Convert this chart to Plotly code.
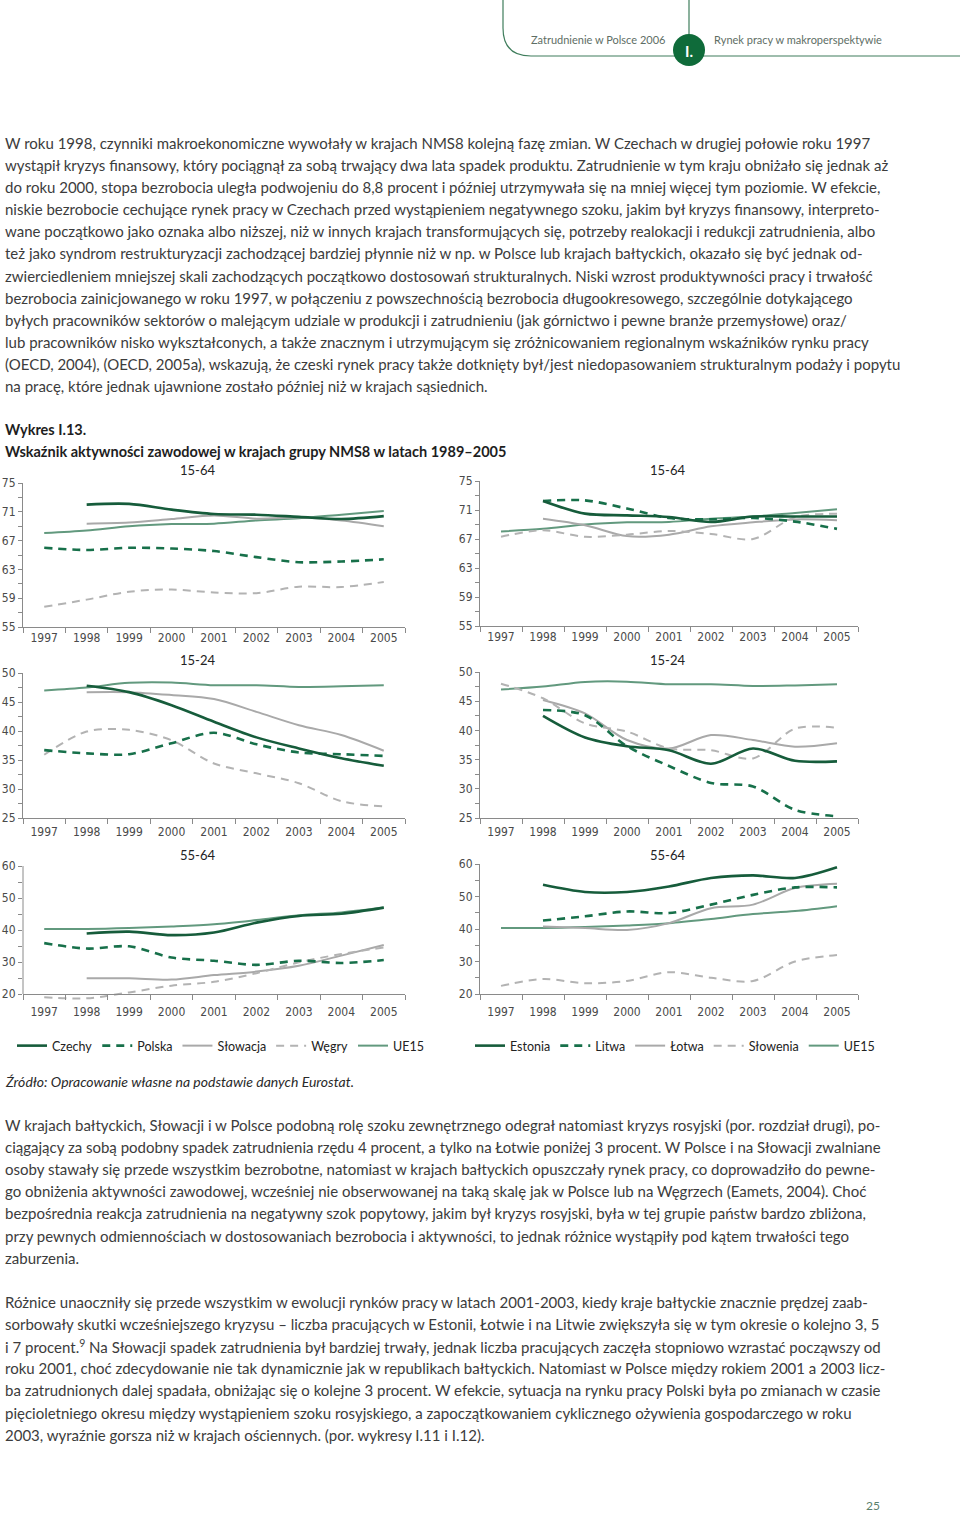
import plotly.graph_objects as go

W, H = 960, 1513
def px(x): return x / W
def py(y): return 1 - y / H

years = [1997, 1998, 1999, 2000, 2001, 2002, 2003, 2004, 2005]
year_labels = [str(y) for y in years]

# ---- Left group (Czechy, Polska, Slowacja, Wegry, UE15)
czechy_1564 = [None, 72.0, 72.1, 71.3, 70.7, 70.6, 70.3, 70.0, 70.4]
polska_1564 = [66.0, 65.7, 66.0, 65.9, 65.55, 64.7, 64.0, 64.1, 64.4]
slowacja_1564 = [None, 69.35, 69.5, 70.0, 70.5, 70.05, 70.2, 69.8, 69.0]
wegry_1564 = [57.8, 58.8, 59.9, 60.2, 59.8, 59.7, 60.6, 60.55, 61.25]

czechy_1524 = [None, 47.8, 46.7, 44.45, 41.6, 38.9, 37.0, 35.3, 34.0]
polska_1524 = [36.7, 36.15, 36.0, 37.9, 39.7, 37.7, 36.3, 36.0, 35.7]
slowacja_1524 = [None, 46.7, 46.7, 46.2, 45.5, 43.3, 41.0, 39.3, 36.6]
wegry_1524 = [35.9, 39.9, 40.2, 38.4, 34.4, 32.7, 31.0, 27.9, 27.0]

czechy_5564 = [None, 38.9, 39.5, 38.4, 39.2, 42.3, 44.4, 45.1, 47.0]
polska_5564 = [35.9, 34.2, 34.9, 31.4, 30.4, 29.1, 30.4, 29.7, 30.6]
slowacja_5564 = [None, 24.9, 24.9, 24.5, 25.9, 27.0, 28.8, 32.0, 35.3]
wegry_5564 = [19.0, 18.65, 20.5, 22.6, 23.8, 26.5, 29.9, 32.5, 34.55]

# ---- Right group (Estonia, Litwa, Lotwa, Slowenia, UE15)
estonia_1564 = [None, 72.24, 70.5, 70.26, 70.03, 69.35, 70.1, 70.1, 70.1]
litwa_1564 = [None, 72.24, 72.33, 71.2, 69.9, 69.7, 69.9, 69.4, 68.4]
lotwa_1564 = [None, 69.8, 68.9, 67.4, 67.6, 68.75, 69.3, 69.7, 69.6]
slowenia_1564 = [67.3, 68.2, 67.3, 67.6, 68.1, 67.7, 67.0, 70.0, 70.5]

estonia_1524 = [None, 42.5, 38.8, 37.3, 36.6, 34.3, 36.9, 34.8, 34.7]
litwa_1524 = [None, 43.5, 42.6, 37.3, 33.9, 31.0, 30.4, 26.4, 25.3]
lotwa_1524 = [None, 45.2, 42.9, 38.35, 36.9, 39.2, 38.35, 37.2, 37.8]
slowenia_1524 = [48.0, 45.5, 41.2, 39.8, 36.9, 36.6, 35.2, 40.3, 40.45]

estonia_5564 = [None, 53.6, 51.4, 51.4, 53.1, 55.7, 56.5, 55.7, 59.0]
litwa_5564 = [None, 42.6, 43.9, 45.4, 44.9, 47.5, 50.5, 52.8, 52.8]
lotwa_5564 = [None, 40.8, 40.3, 39.7, 41.8, 46.4, 47.5, 52.6, 53.9]
slowenia_5564 = [22.5, 24.6, 23.3, 24.0, 26.7, 25.0, 24.0, 30.0, 32.0]

ue15_1564 = [68.05, 68.4, 69.0, 69.3, 69.35, 69.8, 70.1, 70.6, 71.1]
ue15_1524 = [47.0, 47.5, 48.3, 48.35, 47.9, 47.9, 47.6, 47.7, 47.9]
ue15_5564 = [40.3, 40.3, 40.6, 41.1, 41.8, 43.1, 44.6, 45.5, 47.0]

left_names = ["Czechy", "Polska", "Słowacja", "Węgry", "UE15"]
right_names = ["Estonia", "Litwa", "Łotwa", "Słowenia", "UE15"]
panel_titles = ["15-64", "15-24", "55-64"]

left_data = [
    [czechy_1564, polska_1564, slowacja_1564, wegry_1564, ue15_1564],
    [czechy_1524, polska_1524, slowacja_1524, wegry_1524, ue15_1524],
    [czechy_5564, polska_5564, slowacja_5564, wegry_5564, ue15_5564],
]
right_data = [
    [estonia_1564, litwa_1564, lotwa_1564, slowenia_1564, ue15_1564],
    [estonia_1524, litwa_1524, lotwa_1524, slowenia_1524, ue15_1524],
    [estonia_5564, litwa_5564, lotwa_5564, slowenia_5564, ue15_5564],
]

styles = [
    dict(color="#165c3b", width=2.6, dash="solid"),
    dict(color="#17704a", width=2.6, dash="8px,6px"),
    dict(color="#a9a9a9", width=2.0, dash="solid"),
    dict(color="#b3b3b3", width=2.0, dash="8px,6px"),
    dict(color="#62997e", width=2.0, dash="solid"),
]

# panel geometry (pixels): (x0, x1, ytop, ybottom)
geo = [
    (23, 405, 483, 627), (480, 858, 481, 626),
    (23, 405, 673, 818), (480, 858, 672, 818),
    (23, 405, 866, 994), (480, 858, 864, 994),
]
yranges = [(55, 75, 4), (25, 50, 5), (20, 60, 10)]
label_standoff = [0, 3, 7]

AX = "#8a8a8a"
TICKFONT = dict(family="Liberation Sans Narrow, DejaVu Sans Condensed, Roboto, sans-serif", size=12, color="#4a4a4a")
BODY = "Lato, 'Noto Sans', sans-serif"

fig = go.Figure()
layout = {}
shapes = []

for row in range(3):
    for col in range(2):
        i = row * 2 + col
        n = i + 1
        xa = "x" if n == 1 else f"x{n}"
        ya = "y" if n == 1 else f"y{n}"
        xkey = "xaxis" if n == 1 else f"xaxis{n}"
        ykey = "yaxis" if n == 1 else f"yaxis{n}"
        x0, x1, yt, yb = geo[i]
        lo, hi, dt = yranges[row]
        data = left_data[row] if col == 0 else right_data[row]
        names = left_names if col == 0 else right_names
        lg = "legend" if col == 0 else "legend2"
        extend = (row == 2 and col == 0)
        rlo = lo - 2.5 if extend else lo
        ppu = (yb - yt) / (hi - lo)
        ybot_px = yb + (lo - rlo) * ppu
        order = [4, 2, 3, 1, 0]
        for k in order:
            fig.add_trace(go.Scatter(
                x=years, y=data[k], mode="lines", name=names[k],
                line=dict(shape="spline", smoothing=0.9, **styles[k]),
                xaxis=xa, yaxis=ya, legend=lg,
                showlegend=(row == 0), legendrank=k + 1,
                hoverinfo="skip",
            ))
        xaxis = dict(
            domain=[px(x0), px(x1)], range=[1996.5, 2005.5],
            tickmode="array", tickvals=years, ticktext=year_labels,
            ticks="", showgrid=False, zeroline=False,
            showline=True, linecolor=AX, linewidth=1,
            tickfont=TICKFONT, fixedrange=True, automargin=False,
            ticklabelstandoff=label_standoff[row],
            minor=dict(tick0=1996.5, dtick=1, ticks="outside", ticklen=5,
                       tickcolor=AX, tickwidth=1, showgrid=False),
        )
        if extend:
            xaxis.update(anchor="free", position=py(yb))
        else:
            xaxis.update(anchor=ya)
        yaxis = dict(
            domain=[py(ybot_px), py(yt)], range=[rlo, hi], anchor=xa,
            tickmode="linear", tick0=lo, dtick=dt,
            ticks="outside", ticklen=4, tickcolor=AX, tickwidth=1,
            showgrid=False, zeroline=False,
            showline=not extend, linecolor=AX, linewidth=1,
            tickfont=TICKFONT, fixedrange=True, automargin=False,
            minor=dict(tick0=lo, dtick=dt / 2, ticks="outside", ticklen=4,
                       tickcolor=AX, tickwidth=1, showgrid=False),
        )
        layout[xkey] = xaxis
        layout[ykey] = yaxis
        if extend:
            shapes.append(dict(type="line", xref=f"{xa} domain", yref=ya,
                               x0=0, x1=0, y0=lo, y1=hi,
                               line=dict(color=AX, width=1)))

annotations = []
def txt(x, y, s, size=15, color="#3c3c3c", family=BODY, anchor="left", **kw):
    annotations.append(dict(x=px(x), y=py(y), xref="paper", yref="paper",
                            text=s, showarrow=False, xanchor=anchor, yanchor="middle",
                            font=dict(size=size, color=color, family=family), **kw))

# panel titles
for row, ty in enumerate([470, 660, 855]):
    txt(197, ty, panel_titles[row], size=13, color="#222", anchor="center")
    txt(667, ty, panel_titles[row], size=13, color="#222", anchor="center")

# header
txt(529, 40, "Zatrudnienie w Polsce 2006", size=11, color="#5e6e65")
txt(712, 40, "Rynek pracy w makroperspektywie", size=11, color="#5e6e65")
txt(689, 51, "<b>I.</b>", size=15, color="#ffffff", anchor="center")

p1 = [
    "W roku 1998, czynniki makroekonomiczne wywołały w krajach NMS8 kolejną fazę zmian. W Czechach w drugiej połowie roku 1997",
    "wystąpił kryzys finansowy, który pociągnął za sobą trwający dwa lata spadek produktu. Zatrudnienie w tym kraju obniżało się jednak aż",
    "do roku 2000, stopa bezrobocia uległa podwojeniu do 8,8 procent i później utrzymywała się na mniej więcej tym poziomie. W efekcie,",
    "niskie bezrobocie cechujące rynek pracy w Czechach przed wystąpieniem negatywnego szoku, jakim był kryzys finansowy, interpreto-",
    "wane początkowo jako oznaka albo niższej, niż w innych krajach transformujących się, potrzeby realokacji i redukcji zatrudnienia, albo",
    "też jako syndrom restrukturyzacji zachodzącej bardziej płynnie niż w np. w Polsce lub krajach bałtyckich, okazało się być jednak od-",
    "zwierciedleniem mniejszej skali zachodzących początkowo dostosowań strukturalnych. Niski wzrost produktywności pracy i trwałość",
    "bezrobocia zainicjowanego w roku 1997, w połączeniu z powszechnością bezrobocia długookresowego, szczególnie dotykającego",
    "byłych pracowników sektorów o malejącym udziale w produkcji i zatrudnieniu (jak górnictwo i pewne branże przemysłowe) oraz/",
    "lub pracowników nisko wykształconych, a także znacznym i utrzymującym się zróżnicowaniem regionalnym wskaźników rynku pracy",
    "(OECD, 2004), (OECD, 2005a), wskazują, że czeski rynek pracy także dotknięty był/jest niedopasowaniem strukturalnym podaży i popytu",
    "na pracę, które jednak ujawnione zostało później niż w krajach sąsiednich.",
]
p2 = [
    "W krajach bałtyckich, Słowacji i w Polsce podobną rolę szoku zewnętrznego odegrał natomiast kryzys rosyjski (por. rozdział drugi), po-",
    "ciągający za sobą podobny spadek zatrudnienia rzędu 4 procent, a tylko na Łotwie poniżej 3 procent. W Polsce i na Słowacji zwalniane",
    "osoby stawały się przede wszystkim bezrobotne, natomiast w krajach bałtyckich opuszczały rynek pracy, co doprowadziło do pewne-",
    "go obniżenia aktywności zawodowej, wcześniej nie obserwowanej na taką skalę jak w Polsce lub na Węgrzech (Eamets, 2004). Choć",
    "bezpośrednia reakcja zatrudnienia na negatywny szok popytowy, jakim był kryzys rosyjski, była w tej grupie państw bardzo zbliżona,",
    "przy pewnych odmiennościach w dostosowaniach bezrobocia i aktywności, to jednak różnice wystąpiły pod kątem trwałości tego",
    "zaburzenia.",
]
p3 = [
    "Różnice unaoczniły się przede wszystkim w ewolucji rynków pracy w latach 2001-2003, kiedy kraje bałtyckie znacznie prędzej zaab-",
    "sorbowały skutki wcześniejszego kryzysu – liczba pracujących w Estonii, Łotwie i na Litwie zwiększyła się w tym okresie o kolejno 3, 5",
    "i 7 procent.<sup>9</sup> Na Słowacji spadek zatrudnienia był bardziej trwały, jednak liczba pracujących zaczęła stopniowo wzrastać począwszy od",
    "roku 2001, choć zdecydowanie nie tak dynamicznie jak w republikach bałtyckich. Natomiast w Polsce między rokiem 2001 a 2003 licz-",
    "ba zatrudnionych dalej spadała, obniżając się o kolejne 3 procent. W efekcie, sytuacja na rynku pracy Polski była po zmianach w czasie",
    "pięcioletniego okresu między wystąpieniem szoku rosyjskiego, a zapoczątkowaniem cyklicznego ożywienia gospodarczego w roku",
    "2003, wyraźnie gorsza niż w krajach ościennych. (por. wykresy I.11 i I.12).",
]
LS = 22.1
for j, s in enumerate(p1):
    txt(3, 143 + j * LS, s)
for j, s in enumerate(p2):
    txt(3, 1125 + j * LS, s)
for j, s in enumerate(p3):
    txt(3, 1302 + j * LS, s)

txt(3, 429, "<b>Wykres I.13.</b>", size=14.5, color="#1e1e1e")
txt(3, 451, "<b>Wskaźnik aktywności zawodowej w krajach grupy NMS8 w latach 1989–2005</b>", size=14.5, color="#1e1e1e")
txt(3, 1081, "<i>Źródło: Opracowanie własne na podstawie danych Eurostat.</i>", size=14, color="#2a2a2a")
txt(873, 1505, "25", size=12, color="#5a7f6c", anchor="center")

# header decoration
HG = "#3f7d5c"
shapes.append(dict(type="path", xref="paper", yref="paper",
                   path=f"M {px(503)},{py(0)} L {px(503)},{py(28)} Q {px(503)},{py(56)} {px(531)},{py(56)} L {px(960)},{py(56)}",
                   line=dict(color=HG, width=1.2)))
shapes.append(dict(type="line", xref="paper", yref="paper",
                   x0=px(689), x1=px(689), y0=py(0), y1=py(40),
                   line=dict(color=HG, width=1.2)))
shapes.append(dict(type="circle", xref="paper", yref="paper",
                   x0=px(673), x1=px(705), y0=py(66), y1=py(34),
                   fillcolor="#0f6b3a", line=dict(width=0)))

leg_common = dict(orientation="h", yanchor="middle", xanchor="left",
                  font=dict(family=BODY, size=12.5, color="#222"),
                  bgcolor="rgba(0,0,0,0)", itemwidth=30, tracegroupgap=0,
                  traceorder="normal")

fig.update_layout(
    width=W, height=H, autosize=False,
    margin=dict(l=0, r=0, t=0, b=0, pad=0, autoexpand=False),
    paper_bgcolor="white", plot_bgcolor="white",
    showlegend=True,
    legend=dict(x=px(12), y=py(1046), **leg_common),
    legend2=dict(x=px(470), y=py(1046), **leg_common),
    annotations=annotations, shapes=shapes,
    **layout,
)

fig.write_html(
    "out.html",
    config={"displayModeBar": False},
    post_script=(
        "document.documentElement.style.margin='0';"
        "document.body.style.margin='0';document.body.style.padding='0';"
        "document.documentElement.style.overflow='hidden';"
        "var d=document.getElementById('{plot_id}');"
        "d.style.position='fixed';d.style.top='0px';d.style.left='0px';"
    ),
)
